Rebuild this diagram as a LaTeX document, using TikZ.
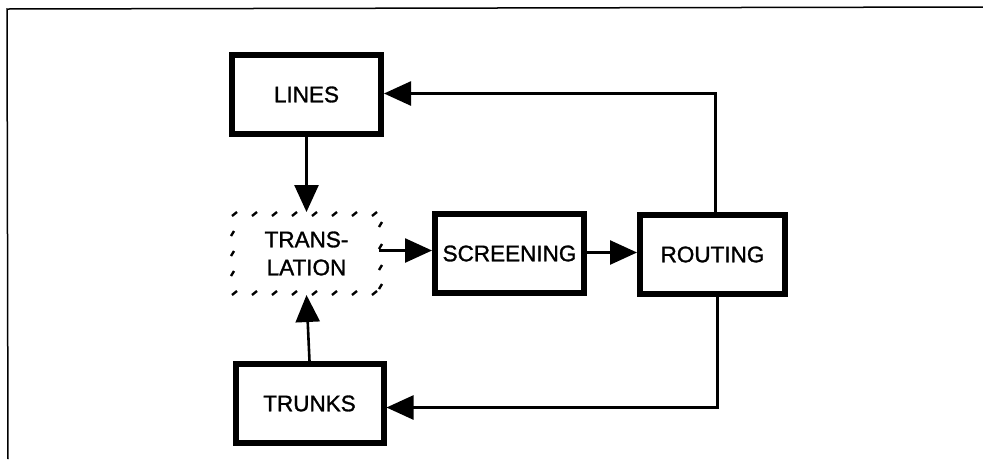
\documentclass[tikz,border=0pt]{standalone}
\usepackage{fontspec}
\setmainfont{Liberation Sans}
\newfontfamily\lblfont[FakeBold=1.3]{Liberation Sans}
\usetikzlibrary{arrows.meta,calc}
\begin{document}
\begin{tikzpicture}[x=1pt,y=-1pt,
  lbl/.style={font=\lblfont\fontsize{22.5}{28}\selectfont},
  blk/.style={lbl,draw,line width=6pt,minimum width=149pt,minimum height=79pt,inner sep=0pt},
  conn/.style={line width=2.6pt,-{Triangle[length=27pt,width=24pt]}},
  tick/.style={line width=2.4pt}]
\useasboundingbox (0,0) rectangle (983,459);
% frame
\draw[line width=1.5pt] (8,459) -- (7,9) -- (983,7);
% boxes
\node[blk] (lines) at (306.5,94.5) {\raisebox{-2pt}{LINES}};
\node[lbl,minimum width=153pt,minimum height=83pt,inner sep=0pt,outer sep=0pt,align=center] (trans) at (306.5,253.5) {TRANS-\\LATION};
\node[blk] (screen) at (509.5,253.5) {SCREENING};
\node[blk,minimum width=145pt,minimum height=79pt] (routing) at (712.5,254.5) {ROUTING};
\node[blk,minimum width=148pt] (trunks) at (309.5,403.5) {\raisebox{-2pt}{TRUNKS}};
% dashed translation border as slanted ticks
\foreach \x in {0,...,7} {
  \draw[tick] ($(trans.north west)+(2+20*\x,4)$) -- ++(5,-4);
  \draw[tick] ($(trans.south west)+(2+20*\x,0)$) -- ++(5,-4);
}
\foreach \y in {1,2,3} {
  \draw[tick] ($(trans.north west)+(1,4+20*\y)$) -- ++(3,-5);
}
\foreach \y in {15,37,58,77} {
  \draw[tick] ($(trans.north east)+(-4,\y)$) -- ++(3,-5);
}
% connectors
\draw[conn] (lines.south) -- (trans.north);
\draw[conn] (trunks.north) -- (trans.south);
\draw[conn] ($(trans.east)+(-4,-3)$) -- ($(trans.east -| screen.west)+(0,-3)$);
\draw[conn] ($(screen.east)+(0,-1)$) -- ($(screen.east -| routing.west)+(0,-1)$);
\draw[conn] ($(routing.north)+(3,0)$) |- ($(lines.east)+(0,-1)$);
\draw[conn] ($(routing.south)+(5,0)$) |- ($(trunks.east)+(0,4)$);
\end{tikzpicture}
\end{document}
